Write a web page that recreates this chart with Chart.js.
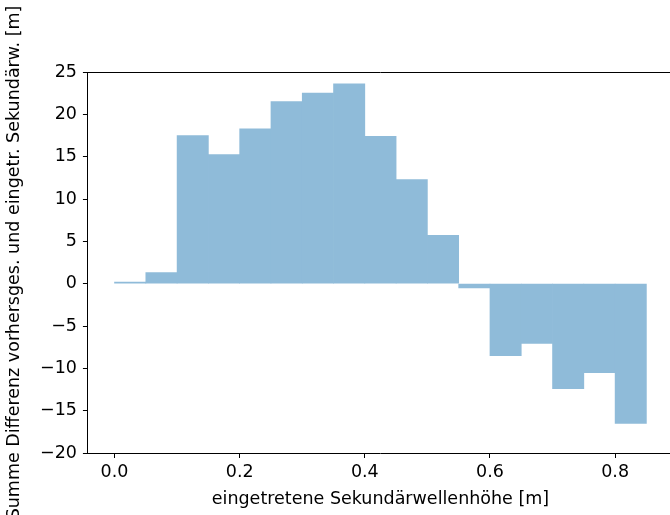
<!DOCTYPE html>
<html>
<head>
<meta charset="utf-8">
<script src="https://cdn.jsdelivr.net/npm/chart.js@4"></script>
<style>
  html, body { margin: 0; padding: 0; background: #fff; overflow: hidden; }
  #wrap { width: 690px; height: 515px; }
</style>
</head>
<body>
<div id="wrap"><canvas id="grafico" width="690" height="515"></canvas></div>
<script>
// Klassen (linke Kante) und Summen je Klasse
const binStarts = [0.00, 0.05, 0.10, 0.15, 0.20, 0.25, 0.30, 0.35, 0.40, 0.45, 0.50, 0.55, 0.60, 0.65, 0.70, 0.75, 0.80];
const sums = [0.2, 1.3, 17.5, 15.25, 18.3, 21.5, 22.5, 23.6, 17.4, 12.3, 5.7, -0.5, -8.5, -7.05, -12.4, -10.5, -16.5];
const binWidth = 0.05;
const xTicks = [0.0, 0.2, 0.4, 0.6, 0.8];
const yTicks = [-20, -15, -10, -5, 0, 5, 10, 15, 20, 25];
const xTitle = 'eingetretene Sekundärwellenhöhe [m]';
const yTitle = 'Summe Differenz vorhersges. und eingetr. Sekundärw. [m]';

const font = 'DejaVu Sans';
const fs = 17.5;

// obere Achsenlinie (Rahmen)
const topSpine = {
  id: 'topSpine',
  afterDraw(chart) {
    const a = chart.chartArea;
    const ctx = chart.ctx;
    ctx.save();
    ctx.strokeStyle = '#000';
    ctx.lineWidth = 1;
    ctx.beginPath();
    ctx.moveTo(a.left, a.top + 0.5);
    ctx.lineTo(a.right, a.top + 0.5);
    ctx.stroke();
    ctx.restore();
  }
};

let daten = binStarts.map((b, i) => ({ x: b + binWidth / 2, y: sums[i] }));

new Chart(document.querySelector('#grafico'), {
  type: 'bar',
  data: {
    datasets: [{
      data: daten,
      backgroundColor: '#8fbbd9',
      borderWidth: 0,
      barPercentage: 1,
      categoryPercentage: 1
    }]
  },
  plugins: [topSpine],
  options: {
    responsive: false,
    animation: false,
    layout: { padding: { left: 4, right: 17, top: 72, bottom: 5 } },
    plugins: { legend: { display: false }, tooltip: { enabled: false } },
    scales: {
      x: {
        type: 'linear',
        offset: false,
        min: -0.0425,
        max: 0.8925,
        afterBuildTicks: s => { s.ticks = xTicks.map(v => ({ value: v })); },
        ticks: {
          color: '#000',
          font: { family: font, size: fs },
          padding: 4,
          maxRotation: 0,
          callback: v => v.toFixed(1)
        },
        grid: { offset: false, drawOnChartArea: false, tickLength: 5, tickColor: '#000' },
        border: { color: '#000', width: 1 },
        title: { display: true, text: xTitle, color: '#000', font: { family: font, size: fs }, padding: { top: 2, bottom: 0 } }
      },
      y: {
        min: -20,
        max: 25,
        afterBuildTicks: s => { s.ticks = yTicks.map(v => ({ value: v })); },
        ticks: {
          color: '#000',
          font: { family: font, size: fs },
          padding: 6,
          callback: v => (v < 0 ? '\u2212' + Math.abs(v) : String(v))
        },
        grid: { drawOnChartArea: false, tickLength: 5, tickColor: '#000' },
        border: { color: '#000', width: 1 },
        title: { display: true, text: yTitle, color: '#000', font: { family: font, size: fs }, padding: { top: 0, bottom: 9 } }
      }
    }
  }
});
</script>
</body>
</html>
